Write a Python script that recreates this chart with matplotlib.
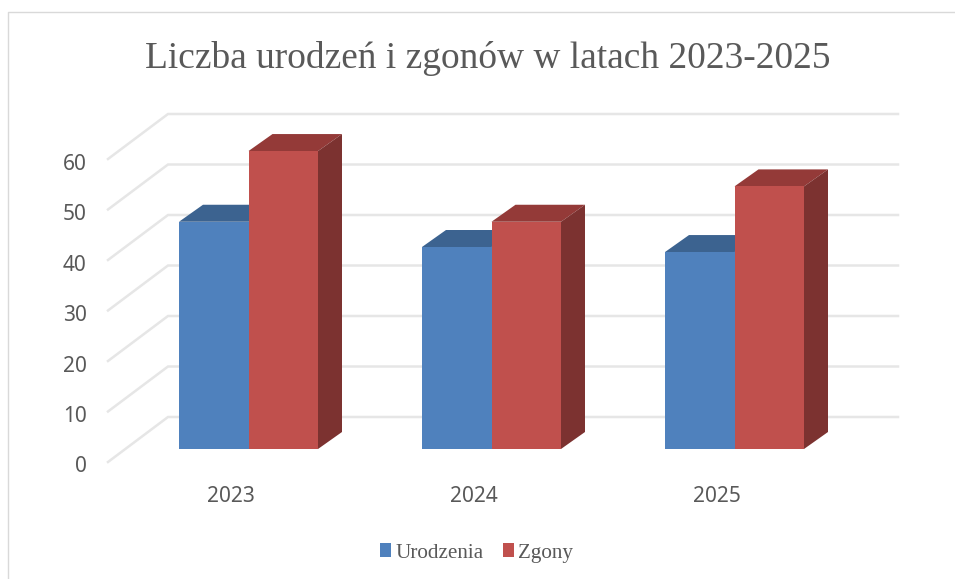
from matplotlib import pyplot as plt
from matplotlib.patches import Polygon

years = ["2023", "2024", "2025"]
urodzenia = [45, 40, 39]
zgony = [59, 45, 52]
y_ticks = [0, 10, 20, 30, 40, 50, 60]

W, H = 955, 579
fig = plt.figure(figsize=(W / 100, H / 100), dpi=100)
ax = fig.add_axes([0, 0, 1, 1])

# 1 kategoria = 243 px, 10 jednostek = 50.5 px
px_x = 1 / 243
px_y = 10 / 50.5
ax.set_xlim(-248.5 * px_x, (W - 248.5) * px_x)
ax.set_ylim(-(H - 449) * px_y, 449 * px_y)
ax.axis("off")

text_col = "#595959"
grid_col = "#E6E6E6"
bar_w = 69.5 * px_x
depth_x = 24 * px_x
depth_y = 17 * px_y


def draw_bars(xs, values, front, top, side, label):
    ax.bar(xs, values, width=bar_w, align="edge", color=front, label=label, zorder=3)
    for x, v in zip(xs, values):
        ax.add_patch(Polygon([(x, v), (x + depth_x, v + depth_y),
                              (x + bar_w + depth_x, v + depth_y), (x + bar_w, v)],
                             facecolor=top, edgecolor="none", zorder=2.5))
        ax.add_patch(Polygon([(x + bar_w, 0), (x + bar_w + depth_x, depth_y),
                              (x + bar_w + depth_x, v + depth_y), (x + bar_w, v)],
                             facecolor=side, edgecolor="none", zorder=2.5))


# siatka: skos po lewej i linia na tylnej scianie
for t in y_ticks:
    ax.plot([-140.5 * px_x, -80.5 * px_x, 649.5 * px_x],
            [t - 13 * px_y, t + 32 * px_y, t + 32 * px_y],
            color=grid_col, lw=1.8, zorder=1, solid_joinstyle="miter")
    ax.text(-162 * px_x, t - 18 * px_y, str(t), ha="right", va="center",
            fontsize=15, color=text_col, family="Noto Sans")

pos = range(len(years))
draw_bars([p - bar_w for p in pos], urodzenia, "#4F81BD", "#3C6390", "#385D8A", "Urodzenia")
draw_bars(list(pos), zgony, "#C0504D", "#943A38", "#7C3230", "Zgony")

for p, y in zip(pos, years):
    ax.text(p - 18 * px_x, -47 * px_y, y, ha="center", va="center",
            fontsize=15, color=text_col, family="Noto Sans")

fig.text(488 / W, 1 - 59 / H, "Liczba urodzeń i zgonów w latach 2023-2025", ha="center", va="center",
         fontsize=26.9, color=text_col, family="Liberation Serif")

leg = ax.legend(loc="center", bbox_to_anchor=(476.5 / W, 1 - 553 / H), ncol=2, frameon=False,
                prop={"family": "Liberation Serif", "size": 15.2},
                handlelength=0.53, handleheight=0.58, handletextpad=0.2, columnspacing=0.9,
                labelcolor=text_col, borderpad=0)

# ramka wykresu, widoczna tylko z lewej i u gory
fig.add_artist(plt.Line2D([7.5 / W, 7.5 / W, 1], [0, 1 - 11.5 / H, 1 - 11.5 / H],
                          color="#D9D9D9", lw=1.0))

plt.savefig("out.png", dpi=100)
